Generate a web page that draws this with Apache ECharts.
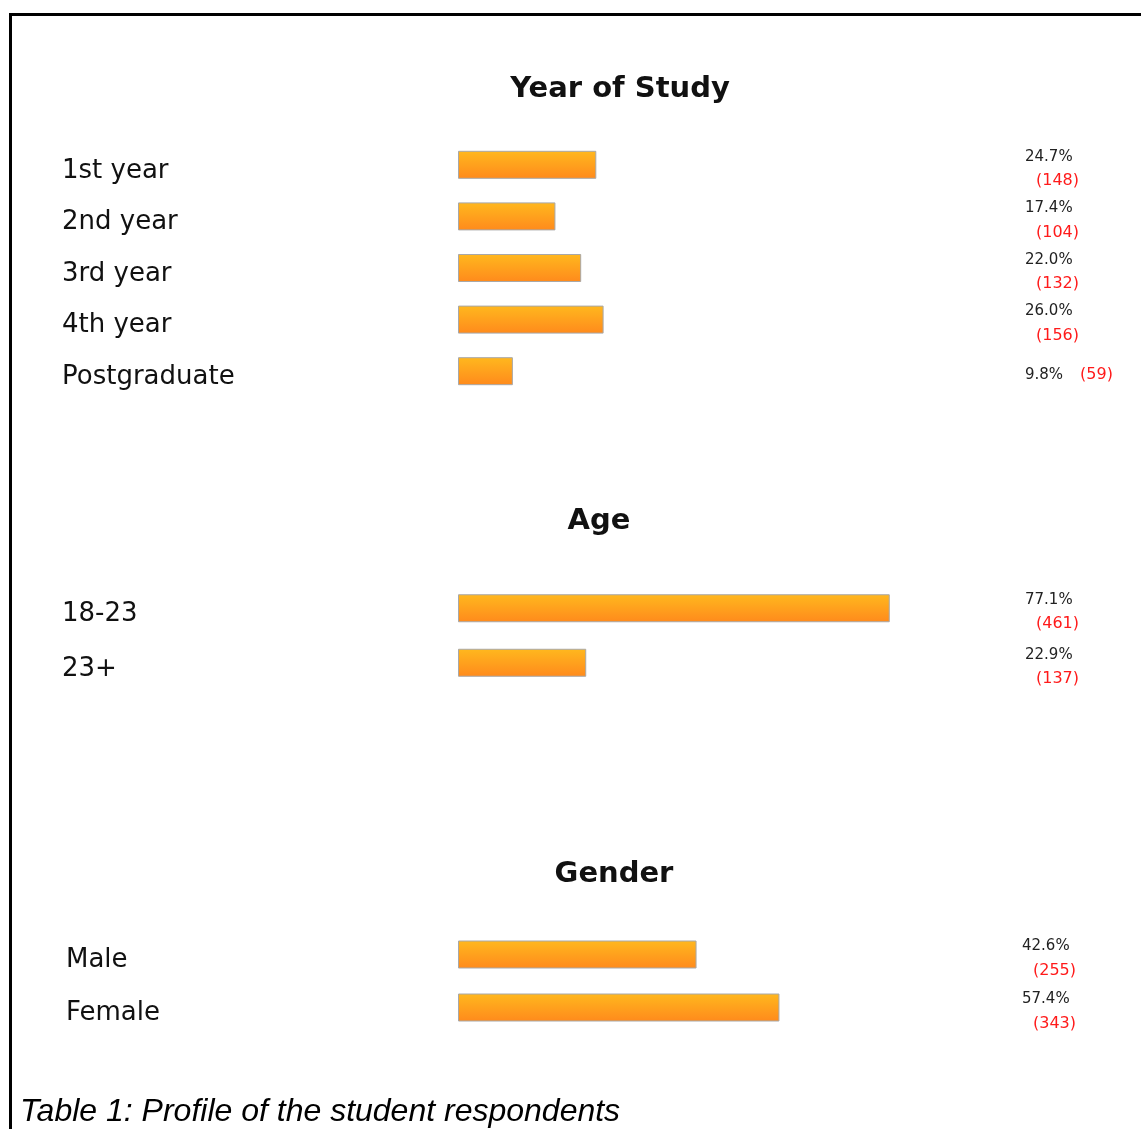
<!DOCTYPE html>
<html>
<head>
<meta charset="utf-8">
<script src="https://cdn.jsdelivr.net/npm/echarts@6/dist/echarts.min.js"></script>
<style>
  html, body { margin: 0; padding: 0; background: #fff; }
  #main { width: 1141px; height: 1129px; }
</style>
</head>
<body>
<div id="main"></div>
<script>
const yearCats = ['1st year', '2nd year', '3rd year', '4th year', 'Postgraduate'];
const yearPct = [24.7, 17.4, 22.0, 26.0, 9.8];
const yearCount = [148, 104, 132, 156, 59];

const ageCats = ['18-23', '23+'];
const agePct = [77.1, 22.9];
const ageCount = [461, 137];

const genderCats = ['Male', 'Female'];
const genderPct = [42.6, 57.4];
const genderCount = [255, 343];

const sections = [
  { title: 'Year of Study', cats: yearCats, pct: yearPct, count: yearCount, top: 139, height: 258, titleX: 615, titleY: 70, leftM: 396, rightM: 7 },
  { title: 'Age', cats: ageCats, pct: agePct, count: ageCount, top: 581, height: 109, titleX: 594, titleY: 502, leftM: 396, rightM: 7 },
  { title: 'Gender', cats: genderCats, pct: genderPct, count: genderCount, top: 928, height: 106, titleX: 609, titleY: 855, leftM: 392, rightM: 4 },
];

const myChart = echarts.init(document.getElementById('main'));

const barColor = new echarts.graphic.LinearGradient(0, 0, 0, 1, [
  { offset: 0, color: '#ffb81e' },
  { offset: 1, color: '#ff8a1c' },
]);

const grid = [];
const xAxis = [];
const yAxis = [];
const series = [];
const title = [];

sections.forEach((s, i) => {
  title.push({
    text: s.title,
    left: s.titleX,
    top: s.titleY,
    textAlign: 'center',
    textStyle: { fontFamily: 'DejaVu Sans', fontSize: 29, fontWeight: 'bold', color: '#111' },
  });
  grid.push({ left: 458, width: 560, top: s.top, height: s.height });
  xAxis.push({ gridIndex: i, type: 'value', min: 0, max: 100, show: false });
  yAxis.push({
    gridIndex: i,
    type: 'category',
    data: s.cats,
    inverse: true,
    axisLine: { show: false },
    axisTick: { show: false },
    axisLabel: {
      interval: 0,
      align: 'left',
      verticalAlign: 'top',
      lineHeight: 12,
      margin: s.leftM,
      fontFamily: 'DejaVu Sans',
      fontSize: 26,
      color: '#111',
    },
  });
  yAxis.push({
    gridIndex: i,
    type: 'category',
    data: s.cats,
    inverse: true,
    position: 'right',
    axisLine: { show: false },
    axisTick: { show: false },
    axisLabel: {
      interval: 0,
      align: 'left',
      margin: s.rightM,
      padding: [8, 0, 0, 0],
      lineHeight: 24,
      formatter: function (v, idx) {
        const p = s.pct[idx].toFixed(1) + '%';
        const c = '(' + s.count[idx] + ')';
        if (v === 'Postgraduate') {
          return '{p|' + p + '}{c2|' + c + '}';
        }
        return '{p|' + p + '}\n{c|' + c + '}';
      },
      rich: {
        p: { fontFamily: 'DejaVu Sans', fontSize: 15, color: '#222', lineHeight: 24 },
        c: { fontFamily: 'DejaVu Sans', fontSize: 16, color: '#ff1a1a', lineHeight: 24, padding: [0, 0, 0, 11] },
        c2: { fontFamily: 'DejaVu Sans', fontSize: 16, color: '#ff1a1a', lineHeight: 24, padding: [0, 0, 0, 17] },
      },
    },
  });
  series.push({
    type: 'bar',
    xAxisIndex: i,
    yAxisIndex: i * 2,
    barWidth: 28,
    data: s.pct,
    itemStyle: { color: barColor, borderColor: '#a8a8a8', borderWidth: 1 },
    silent: true,
  });
});

const option = {
  animation: false,
  title: title,
  grid: grid,
  xAxis: xAxis,
  yAxis: yAxis,
  series: series,
  graphic: [
    {
      type: 'polyline',
      shape: { points: [[10.5, 1129], [10.5, 14.5], [1141, 14.5]] },
      style: { stroke: '#000', lineWidth: 3, fill: null },
    },
    {
      type: 'text',
      left: 20,
      top: 1096,
      style: {
        text: 'Table 1: Profile of the student respondents',
        font: 'italic 32px "Liberation Sans", Arial, sans-serif',
        fill: '#000',
      },
    },
  ],
};

myChart.setOption(option);
</script>
</body>
</html>
